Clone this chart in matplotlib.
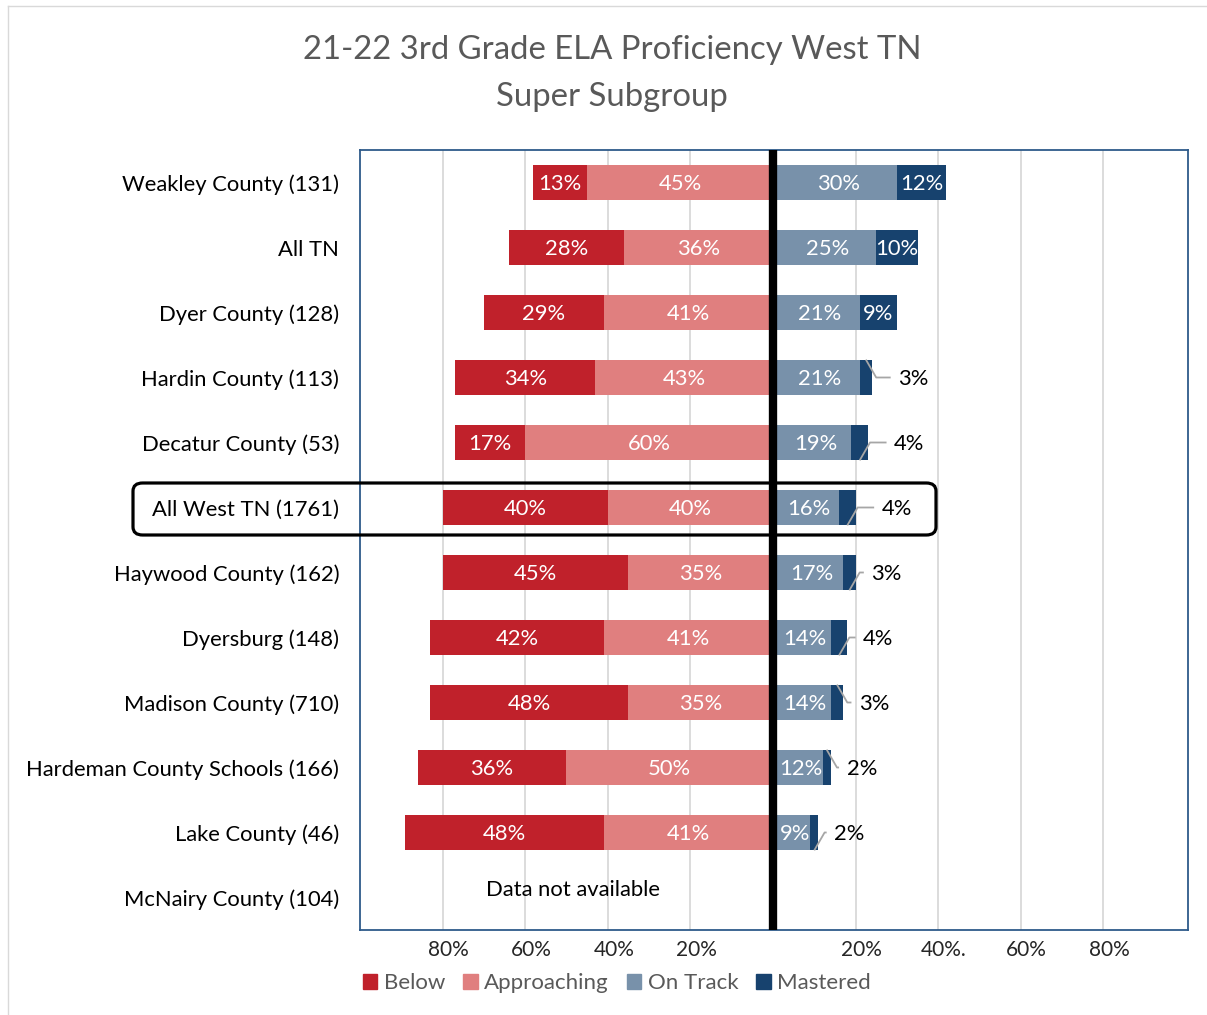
import matplotlib
matplotlib.use("Agg")
import matplotlib.pyplot as plt
import matplotlib.transforms as mtransforms
from matplotlib.patches import FancyBboxPatch
from matplotlib.lines import Line2D
import numpy as np

plt.rcParams['font.family'] = ['Lato', 'DejaVu Sans']

# data (percent of students)
districts = ["Weakley County (131)", "All TN", "Dyer County (128)", "Hardin County (113)",
             "Decatur County (53)", "All West TN (1761)", "Haywood County (162)",
             "Dyersburg (148)", "Madison County (710)", "Hardeman County Schools (166)",
             "Lake County (46)", "McNairy County (104)"]
below = [13, 28, 29, 34, 17, 40, 45, 42, 48, 36, 48, None]
approaching = [45, 36, 41, 43, 60, 40, 35, 41, 35, 50, 41, None]
on_track = [30, 25, 21, 21, 19, 16, 17, 14, 14, 12, 9, None]
mastered = [12, 10, 9, 3, 4, 4, 3, 4, 3, 2, 2, None]

xtick_vals = [-80, -60, -40, -20, 20, 40, 60, 80]
xtick_labels = ["80%", "60%", "40%", "20%", "20%", "40%.", "60%", "80%"]

c_below = "#C0212B"
c_appr = "#E07F7F"
c_track = "#7891AA"
c_mast = "#17426E"

fig = plt.figure(figsize=(12.07, 10.15), dpi=100)
ax = fig.add_axes([360/1207, 1-930/1015, 828/1207, 780/1015])

y = np.arange(len(districts))
h = 0.55
fs = 15.8
dy = 0.03  # nudge text down a little so it sits centred in the bar

for i in range(len(districts)):
    if below[i] is None:
        continue
    a, b, t, m = approaching[i], below[i], on_track[i], mastered[i]
    ax.barh(i, -a, height=h, color=c_appr, zorder=2)
    ax.barh(i, -b, left=-a, height=h, color=c_below, zorder=2)
    ax.barh(i, t, height=h, color=c_track, zorder=2)
    ax.barh(i, m, left=t, height=h, color=c_mast, zorder=2)
    ax.text(-a / 2, i + dy, f"{a}%", color="white", ha="center", va="center", fontsize=fs, zorder=3)
    ax.text(-a - b / 2, i + dy, f"{b}%", color="white", ha="center", va="center", fontsize=fs, zorder=3)
    ax.text(t / 2 + 0.8, i + dy, f"{t}%", color="white", ha="center", va="center", fontsize=fs, zorder=3)
    if m >= 9:
        ax.text(t + m / 2, i + dy, f"{m}%", color="white", ha="center", va="center", fontsize=fs, zorder=3)
    else:
        # outside label with leader line
        end = t + m
        mid = t + m / 2
        gap = 10 if i <= 5 else 7.5
        lx = end + gap
        edge = i - h / 2 if i in (3, 8, 9) else i + h / 2
        ax.plot([mid, mid + 2.5, lx - 5.5], [edge, i, i], color="#A6A6A6", lw=1.3, zorder=3,
                solid_capstyle="butt")
        ax.text(lx, i + dy, f"{m}%", color="black", ha="center", va="center", fontsize=fs, zorder=3)

ax.text(-48.5, len(districts) - 1 - 0.12, "Data not available", ha="center", va="center",
        fontsize=fs, color="black")

ax.set_xlim(-100, 100.5)
ax.set_ylim(len(districts) - 0.5, -0.5)
ax.set_yticks(y)
ax.set_yticklabels(districts, fontsize=fs, color="black")
ax.set_xticks(xtick_vals)
ax.set_xticklabels([])
# x labels sit a bit right of their gridlines, like the original
shift = mtransforms.ScaledTranslation(6/100, -20/100, fig.dpi_scale_trans)
trans = mtransforms.blended_transform_factory(ax.transData, ax.transAxes) + shift
for v, lab in zip(xtick_vals, xtick_labels):
    ax.text(v, 0, lab, transform=trans, ha="center", va="center", fontsize=15, color="#262626")
ax.tick_params(axis="both", length=0)
ax.tick_params(axis="y", pad=15)
ax.grid(axis="x", color="#D9D9D9", lw=1.3, zorder=0)
ax.axvline(0, ymin=0.004, ymax=1, color="black", lw=6, zorder=4)
for s in ax.spines.values():
    s.set_color("#2E5A8A")
    s.set_linewidth(1.3)

fig.text(612/1207, 1-50/1015, "21-22 3rd Grade ELA Proficiency West TN", ha="center", va="center",
         fontsize=23.7, color="#595959")
fig.text(612/1207, 1-97/1015, "Super Subgroup", ha="center", va="center",
         fontsize=23.7, color="#595959")

# highlight box around All West TN
box = FancyBboxPatch((133/1207, 1-535/1015), 803/1207, 52/1015, transform=fig.transFigure,
                     boxstyle="round,pad=0,rounding_size=0.008", fill=False, ec="black", lw=2.3,
                     zorder=10)
fig.patches.append(box)

# chart border
fig.add_artist(Line2D([8/1207, 1], [1-6/1015, 1-6/1015], transform=fig.transFigure, color="#D9D9D9", lw=1))
fig.add_artist(Line2D([8/1207, 8/1207], [0, 1-6/1015], transform=fig.transFigure, color="#D9D9D9", lw=1))

handles = [plt.Rectangle((0, 0), 1, 1, color=c) for c in (c_below, c_appr, c_track, c_mast)]
fig.legend(handles, ["Below", "Approaching", "On Track", "Mastered"], loc="center",
           bbox_to_anchor=(617/1207, 1-983/1015), ncol=4, frameon=False, fontsize=16,
           handlelength=0.65, handleheight=0.65, handletextpad=0.3, columnspacing=0.8,
           labelcolor="#595959")

fig.savefig("out.png", dpi=100)
